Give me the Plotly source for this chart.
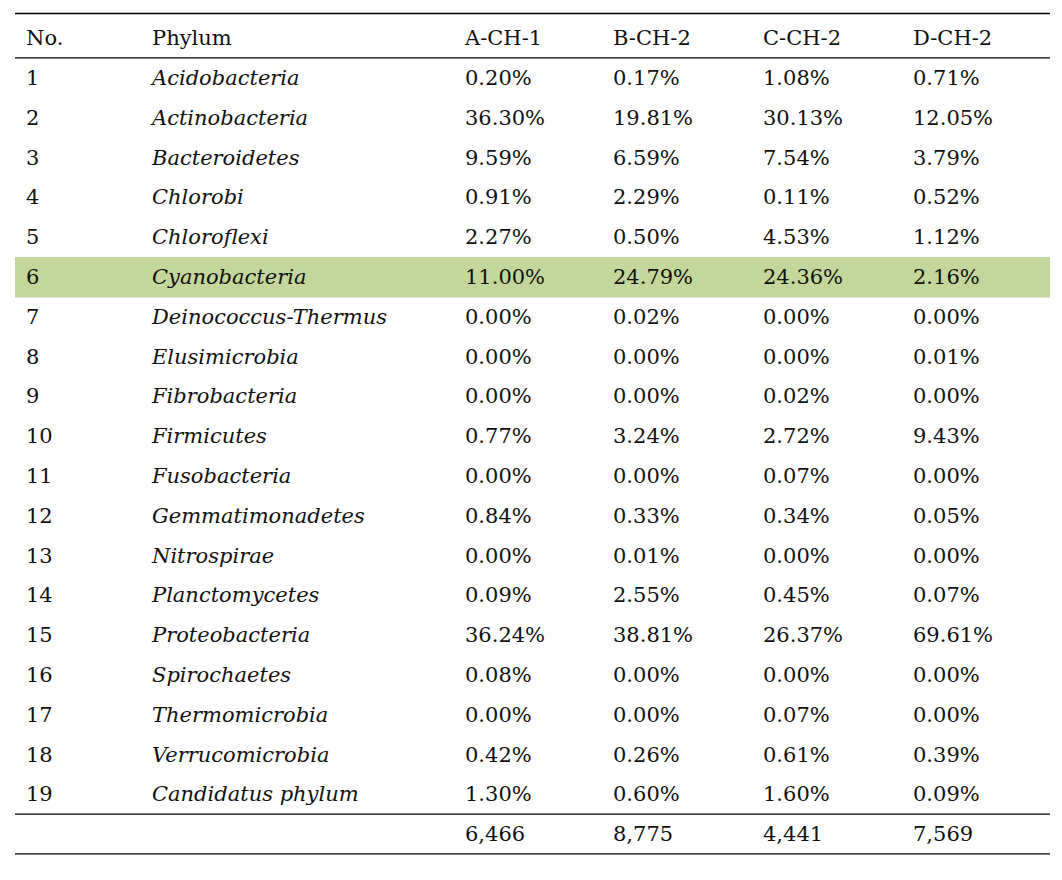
import plotly.graph_objects as go

headers = ["No.", "Phylum", "A-CH-1", "B-CH-2", "C-CH-2", "D-CH-2"]
numbers = [str(i) for i in range(1, 20)]
phyla = ["Acidobacteria", "Actinobacteria", "Bacteroidetes", "Chlorobi", "Chloroflexi",
         "Cyanobacteria", "Deinococcus-Thermus", "Elusimicrobia", "Fibrobacteria",
         "Firmicutes", "Fusobacteria", "Gemmatimonadetes", "Nitrospirae",
         "Planctomycetes", "Proteobacteria", "Spirochaetes", "Thermomicrobia",
         "Verrucomicrobia", "Candidatus phylum"]
a_ch_1 = ["0.20%", "36.30%", "9.59%", "0.91%", "2.27%", "11.00%", "0.00%", "0.00%", "0.00%",
          "0.77%", "0.00%", "0.84%", "0.00%", "0.09%", "36.24%", "0.08%", "0.00%", "0.42%", "1.30%"]
b_ch_2 = ["0.17%", "19.81%", "6.59%", "2.29%", "0.50%", "24.79%", "0.02%", "0.00%", "0.00%",
          "3.24%", "0.00%", "0.33%", "0.01%", "2.55%", "38.81%", "0.00%", "0.00%", "0.26%", "0.60%"]
c_ch_2 = ["1.08%", "30.13%", "7.54%", "0.11%", "4.53%", "24.36%", "0.00%", "0.00%", "0.02%",
          "2.72%", "0.07%", "0.34%", "0.00%", "0.45%", "26.37%", "0.00%", "0.07%", "0.61%", "1.60%"]
d_ch_2 = ["0.71%", "12.05%", "3.79%", "0.52%", "1.12%", "2.16%", "0.00%", "0.01%", "0.00%",
          "9.43%", "0.00%", "0.05%", "0.00%", "0.07%", "69.61%", "0.00%", "0.00%", "0.39%", "0.09%"]
totals = ["6,466", "8,775", "4,441", "7,569"]
highlight_row = 6

# layout constants (page pixels; the page body has an 8px margin)
W, H = 1062, 880
PAD = 8
col_x = [26, 152, 465, 613, 763, 913]
x_left, x_right = 15, 1050
row0_px, row_step = 38, 39.8
TEXT_DY = 0.05  # small downward nudge of text baseline (in row units)
FONT = "DejaVu Serif"
FS = 21
TXT = "#111111"

fig = go.Figure()

n = len(phyla)
rows_y = [r + TEXT_DY for r in range(1, n + 1)]
total_y = n + 1 + TEXT_DY
head_y = 0 + TEXT_DY

# highlight
fig.add_shape(type="rect", x0=x_left, x1=x_right, y0=highlight_row - 0.5, y1=highlight_row + 0.52,
              fillcolor="#c3d69b", line_width=0, layer="below")

# header
fig.add_trace(go.Scatter(x=col_x, y=[head_y] * len(headers), text=headers, mode="text",
                         textposition="middle right",
                         textfont=dict(family=FONT, size=FS, color=TXT), hoverinfo="skip"))
# number column
fig.add_trace(go.Scatter(x=[col_x[0]] * n, y=rows_y, text=numbers, mode="text",
                         textposition="middle right",
                         textfont=dict(family=FONT, size=FS, color=TXT), hoverinfo="skip"))
# phylum column (italic)
fig.add_trace(go.Scatter(x=[col_x[1]] * n, y=rows_y, text=phyla, mode="text",
                         textposition="middle right",
                         textfont=dict(family=FONT, size=FS, color=TXT, style="italic"),
                         hoverinfo="skip"))
# value columns
for ci, col in enumerate([a_ch_1, b_ch_2, c_ch_2, d_ch_2]):
    fig.add_trace(go.Scatter(x=[col_x[2 + ci]] * n, y=rows_y, text=col, mode="text",
                             textposition="middle right",
                             textfont=dict(family=FONT, size=FS, color=TXT), hoverinfo="skip"))
# totals
fig.add_trace(go.Scatter(x=col_x[2:], y=[total_y] * 4, text=totals, mode="text",
                         textposition="middle right",
                         textfont=dict(family=FONT, size=FS, color=TXT), hoverinfo="skip"))

# rules
for yv in [-0.615, 0.5, n + 0.5, n + 1.5]:
    fig.add_shape(type="line", x0=x_left, x1=x_right, y0=yv, y1=yv,
                  line=dict(color="black", width=1.3))

y_top = (PAD - row0_px) / row_step
y_bot = (H - PAD - row0_px) / row_step
fig.update_layout(
    width=W - 2 * PAD, height=H - 2 * PAD, margin=dict(l=0, r=0, t=0, b=0),
    paper_bgcolor="white", plot_bgcolor="white", showlegend=False,
    xaxis=dict(range=[PAD, W - PAD], visible=False, fixedrange=True),
    yaxis=dict(range=[y_bot, y_top], visible=False, fixedrange=True),
)
fig.write_html("out.html")
